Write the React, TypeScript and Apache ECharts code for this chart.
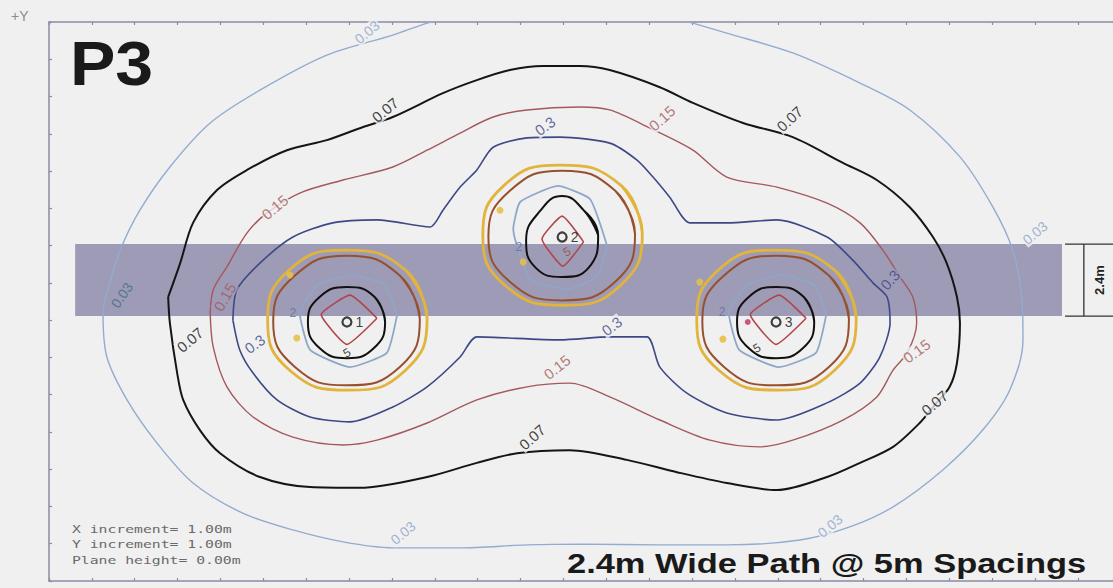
import React, { useEffect, useRef } from 'react';
import * as echarts from 'echarts';

// ---- axes (metres, 1.00 m increments) ----
const X_MAX = 24.82;
const Y_MAX = 15;

// ---- path band (2.4 m wide) ----
const BAND_X = [0.61, 23.63];
const BAND_Y = [7.11, 9.04];
const BAND_TEXT = '2.4m';

// ---- luminaires ----
const LAMP_X = [6.95, 11.97, 16.96];
const LAMP_Y = [6.95, 9.23, 6.95];
const LAMP_TAGS = ['1', '2', '3'];

// ---- outer iso-lux contours ----
const C003 = [[11.92,15.54],[13.78,15.37],[15.02,14.97],[15.81,14.70],[17.35,14.17],[18.92,13.36],[20.08,12.64],[21.25,11.38],[22.02,10.03],[22.48,8.88],[22.69,7.62],[22.72,6.47],[22.41,5.12],[21.78,4.05],[20.85,2.98],[19.69,1.99],[18.68,1.45],[17.52,1.10],[15.81,0.97],[14.25,0.97],[12.38,0.99],[11.15,0.97],[9.59,0.89],[8.02,0.89],[6.86,1.05],[5.69,1.37],[4.52,1.82],[3.36,2.63],[2.52,3.70],[1.82,4.86],[1.35,6.01],[1.26,7.19],[1.42,8.00],[1.66,8.88],[2.12,9.95],[2.82,11.11],[3.76,12.29],[4.92,13.17],[6.48,14.11],[8.02,14.65],[8.82,14.97],[10.05,15.37],[11.92,15.54]];
const C007 = [[2.78,7.62],[3.06,8.53],[3.36,9.61],[3.92,10.49],[4.62,11.03],[5.55,11.56],[6.48,11.83],[7.25,12.15],[8.02,12.45],[9.19,13.09],[9.98,13.44],[10.75,13.71],[11.52,13.82],[12.38,13.82],[13.08,13.71],[14.25,13.25],[15.02,12.83],[16.19,12.29],[17.35,11.91],[18.52,11.22],[19.31,10.76],[20.08,10.03],[20.62,9.23],[20.94,8.53],[21.18,7.62],[21.25,6.92],[21.18,5.85],[21.01,5.21],[20.66,4.72],[20.31,4.24],[19.69,3.60],[18.92,3.17],[18.15,2.79],[16.98,2.44],[15.81,2.63],[14.65,2.92],[13.48,3.25],[12.15,3.51],[10.92,3.43],[9.98,3.17],[8.82,2.79],[7.25,2.50],[6.09,2.52],[4.92,2.79],[3.99,3.43],[3.52,4.05],[3.13,4.86],[2.99,5.58],[2.82,6.92],[2.78,7.62]];
const C015 = [[3.76,7.19],[3.83,7.81],[4.15,8.43],[4.62,9.34],[5.08,9.87],[5.85,10.41],[6.86,10.76],[8.02,11.11],[8.82,11.56],[9.59,12.02],[10.36,12.45],[11.15,12.64],[12.38,12.72],[13.08,12.64],[14.02,12.15],[15.02,11.56],[15.81,10.84],[16.98,10.57],[18.15,10.14],[18.92,9.61],[19.45,8.88],[19.85,8.16],[20.15,7.62],[20.24,6.92],[20.03,6.14],[19.69,5.66],[19.31,4.94],[18.52,4.32],[17.35,3.78],[16.58,3.60],[15.42,3.78],[14.25,4.32],[13.08,4.94],[12.15,5.31],[11.15,5.21],[9.98,4.86],[8.82,4.24],[7.65,3.78],[6.86,3.65],[5.69,3.86],[4.76,4.40],[4.15,5.21],[3.83,6.28],[3.76,7.19]];
const C030 = [[4.29,7.00],[4.38,7.81],[4.92,8.53],[5.69,9.23],[6.62,9.61],[7.65,9.69],[8.89,9.50],[9.19,9.95],[9.59,10.57],[9.98,11.03],[10.36,11.64],[11.15,11.89],[11.92,11.91],[13.08,11.75],[13.71,11.30],[14.09,10.84],[14.48,10.30],[14.95,9.61],[15.81,9.61],[16.98,9.69],[18.15,9.23],[18.75,8.61],[19.22,8.00],[19.55,7.62],[19.62,6.92],[19.38,6.01],[18.92,5.31],[18.15,4.78],[16.98,4.32],[15.81,4.51],[14.88,5.04],[14.25,5.74],[13.95,6.55],[13.08,6.55],[11.92,6.47],[9.98,6.55],[9.59,6.01],[8.82,5.21],[8.02,4.67],[7.02,4.27],[6.09,4.40],[5.32,4.86],[4.76,5.58],[4.45,6.20],[4.29,7.00]];

// ---- contour labels [x, y, angle] ----
const LBL_003 = [[7.42,14.73,40],[1.70,7.67,55],[23.0,9.34,40],[8.26,1.29,40],[18.22,1.48,40]];
const LBL_007 = [[7.84,12.64,40],[17.28,12.40,43],[20.66,4.78,40],[11.27,3.86,42],[3.29,6.47,40]];
const LBL_015 = [[5.27,10.03,40],[14.30,12.42,42],[20.24,6.17,36],[11.85,5.74,38],[4.10,7.62,60]];
const LBL_030 = [[11.57,12.21,36],[19.62,8.08,48],[13.13,6.84,37],[4.80,6.36,36]];

// ---- inner rings around each luminaire (offsets from the luminaire, read per lamp) ----
const YELLOW_RING = [[1.87,0.1],[1.38,1.38],[-0.05,1.93],[-1.36,1.38],[-1.85,0.05],[-1.33,-1.3],[0.05,-1.83],[1.36,-1.3]];
const BROWN_RING = [[1.70,0.08],[1.24,1.24],[0,1.78],[-1.22,1.24],[-1.72,0.02],[-1.22,-1.2],[0,-1.7],[1.24,-1.2]];
const BLUE_RING_SIDE = [[1.17,0.19],[0.89,0.99],[0.12,1.26],[-0.68,0.99],[-1.10,0.24],[-0.86,-0.75],[0.07,-1.21],[0.93,-0.83]];
const BLUE_RING_MID = [[1.05,-0.24],[0.65,1.02],[-0.1,1.37],[-0.98,0.94],[-1.14,0.21],[-0.75,-1.13],[0.12,-1.40],[0.82,-1.05]];
const BLACK_RING_SIDE = [[0.89,0],[0.64,0.68],[0,0.94],[-0.65,0.66],[-0.91,0],[-0.64,-0.7],[0,-0.97],[0.63,-0.7]];
const BLACK_RING_MID = [[0.84,0.05],[0.5,0.72],[0,1.1],[-0.5,0.72],[-0.84,-0.1],[-0.62,-0.82],[0,-1.07],[0.62,-0.82]];
const DIAMOND_SIDE = [[0.7,0.1],[0.07,0.72],[-0.6,0.2],[0,-0.6]];
const DIAMOND_MID = [[0.5,-0.13],[0,0.56],[-0.47,-0.05],[0.02,-0.78]];

const INNER_BLUE_LBL = [[5.69,7.19],[10.96,8.96],[15.70,7.22]];
const INNER_BLACK_LBL = [[6.95,6.12],[16.51,6.25]];
const INNER_BROWN_LBL = [[12.08,8.83]];
const YELLOW_DOTS = [[5.78,6.52],[5.62,8.21],[10.52,9.95],[11.06,8.56],[15.72,6.49],[15.18,8.02]];
const RED_DOTS = [[16.30,6.95]];

// ---- texts ----
const TITLE = 'P3';
const SUBTITLE = '2.4m Wide Path @ 5m Spacings';
const INFO_LINES = ['X increment= 1.00m', 'Y increment= 1.00m', 'Plane height= 0.00m'];
const AXIS_TAG = '+Y';

const BG = '#f0f0f0';
const BAND_COLOR = '#9d9bb5';
const AXIS_COLOR = '#8d8aa2';
const COL = {
  c003: '#92acd0', c003band: '#3f6f80', c007: '#151515', c015: '#a4585c', c030: '#3d4886',
  yellow: '#e2b43c', brown: '#97502e', blue: '#8ea7c8', black: '#111111', red: '#b0464a',
};

function loop(cx: number, cy: number, offs: number[][], smoothClose: boolean) {
  const pts = offs.map(([dx, dy]) => [cx + dx, cy + dy]);
  return smoothClose ? [...pts, pts[0], pts[1]] : [...pts, pts[0]];
}

function lineSeries(data: number[][], color: string, width: number, smooth: number | boolean, z = 3) {
  return {
    type: 'line', data, showSymbol: false, symbol: 'none', smooth, silent: true, z,
    lineStyle: { color, width }, animation: false,
  };
}

function inBand(x: number, y: number) {
  return x >= BAND_X[0] && x <= BAND_X[1] && y >= BAND_Y[0] && y <= BAND_Y[1];
}

function labelItems(list: number[][], text: string, color: string, size: number, bandColor?: string) {
  return list.map(([x, y, r]) => {
    const b = inBand(x, y);
    return {
      name: text,
      value: [x, y],
      label: {
        rotate: r, color: b && bandColor ? bandColor : color, fontSize: size,
        backgroundColor: b ? BAND_COLOR : BG, padding: [0, 1],
      },
    };
  });
}

function buildOption() {
  const axisCommon = {
    type: 'value', min: 0, interval: 1,
    axisLine: { show: true, onZero: false, lineStyle: { color: AXIS_COLOR, width: 1.5 } },
    axisTick: { show: true, inside: true, length: 3, lineStyle: { color: AXIS_COLOR, width: 1.2 } },
    axisLabel: { show: false }, splitLine: { show: false },
  };
  const series: any[] = [];
  // band
  series.push({
    type: 'custom', z: 1, silent: true,
    data: [[BAND_X[0], BAND_Y[0], BAND_X[1], BAND_Y[1]]],
    encode: { x: [0, 2], y: [1, 3] },
    renderItem: (_p: any, api: any) => {
      const a = api.coord([api.value(0), api.value(3)]);
      const b = api.coord([api.value(2), api.value(1)]);
      return { type: 'rect', shape: { x: a[0], y: a[1], width: b[0] - a[0], height: b[1] - a[1] }, style: { fill: BAND_COLOR } };
    },
  });
  // dimension marker of band width
  series.push({
    type: 'custom', z: 5, silent: true, clip: false,
    data: [[BAND_Y[0], BAND_Y[1]]],
    encode: { y: [0, 1] },
    renderItem: (_p: any, api: any) => {
      const top = api.coord([23.70, api.value(1)]);
      const bot = api.coord([23.70, api.value(0)]);
      const right = api.coord([X_MAX, api.value(1)])[0];
      const mid = api.coord([24.14, 0])[0];
      const txt = api.coord([24.50, 0])[0];
      const ls = { stroke: '#333', lineWidth: 1.3 };
      return {
        type: 'group', children: [
          { type: 'line', shape: { x1: top[0], y1: top[1], x2: right, y2: top[1] }, style: ls },
          { type: 'line', shape: { x1: bot[0], y1: bot[1], x2: right, y2: bot[1] }, style: ls },
          { type: 'line', shape: { x1: mid, y1: top[1], x2: mid, y2: bot[1] }, style: ls },
          { type: 'text', x: txt, y: (top[1] + bot[1]) / 2, rotation: Math.PI / 2,
            style: { text: BAND_TEXT, fill: '#222', fontSize: 13, fontWeight: 'bold', fontFamily: 'Liberation Sans', align: 'center', verticalAlign: 'middle' } },
        ],
      };
    },
  });
  // outer contours
  series.push(lineSeries(C003, COL.c003, 1.4, 0.3));
  series.push(lineSeries(C007, COL.c007, 2, 0.3));
  series.push(lineSeries(C015, COL.c015, 1.4, 0.3));
  series.push(lineSeries(C030, COL.c030, 1.6, 0.25));
  // rings per lamp
  LAMP_X.forEach((cx, i) => {
    const cy = LAMP_Y[i];
    const mid = i === 1;
    series.push(lineSeries(loop(cx, cy, YELLOW_RING, true), COL.yellow, 2.8, 0.5, 4));
    series.push(lineSeries(loop(cx, cy, BROWN_RING, true), COL.brown, 2, 0.5, 4));
    series.push(lineSeries(loop(cx, cy, mid ? BLUE_RING_MID : BLUE_RING_SIDE, false), COL.blue, 1.8, 0.15, 4));
    series.push(lineSeries(loop(cx, cy, mid ? BLACK_RING_MID : BLACK_RING_SIDE, true), COL.black, 2, 0.5, 4));
    series.push(lineSeries(loop(cx, cy, mid ? DIAMOND_MID : DIAMOND_SIDE, false), COL.red, 1.6, 0.15, 4));
  });
  // dots
  series.push({ type: 'scatter', z: 5, silent: true, symbolSize: 7, data: YELLOW_DOTS, itemStyle: { color: '#e6c04a', opacity: 0.9 } });
  series.push({ type: 'scatter', z: 6, silent: true, symbolSize: 6, data: RED_DOTS, itemStyle: { color: '#c2335a' } });
  // luminaire markers
  series.push({
    type: 'scatter', z: 8, silent: true, symbol: 'circle', symbolSize: 9,
    data: LAMP_X.map((x, i) => ({ name: LAMP_TAGS[i], value: [x, LAMP_Y[i]] })),
    itemStyle: { color: 'rgba(0,0,0,0)', borderColor: '#111', borderWidth: 2.2 },
    label: { show: true, position: 'right', distance: 3, formatter: '{b}', fontSize: 14, color: '#111', fontFamily: 'Liberation Sans' },
  });
  // contour labels
  const lbl = [
    ...labelItems(LBL_003, '0.03', '#8aa3c8', 14, COL.c003band),
    ...labelItems(LBL_007, '0.07', '#111', 15),
    ...labelItems(LBL_015, '0.15', COL.c015, 15),
    ...labelItems(LBL_030, '0.3', COL.c030, 15),
    ...INNER_BLUE_LBL.map(([x, y]) => ({ name: '2', value: [x, y], label: { color: '#5b6fa6', fontSize: 12, rotate: 0 } })),
    ...INNER_BLACK_LBL.map(([x, y]) => ({ name: '5', value: [x, y], label: { color: '#111', fontSize: 12, rotate: 30 } })),
    ...INNER_BROWN_LBL.map(([x, y]) => ({ name: '5', value: [x, y], label: { color: '#a0453a', fontSize: 12, rotate: 30 } })),
  ];
  series.push({
    type: 'scatter', z: 10, silent: true, symbolSize: 1, data: lbl,
    itemStyle: { color: 'rgba(0,0,0,0)' },
    label: { show: true, position: 'inside', formatter: '{b}', fontFamily: 'Liberation Sans' },
  });

  return {
    animation: false,
    backgroundColor: BG,
    grid: { left: 49, top: 22, right: 0, bottom: 7 },
    xAxis: [
      { ...axisCommon, max: X_MAX, position: 'bottom' },
      { ...axisCommon, max: X_MAX, position: 'top' },
    ],
    yAxis: [{ ...axisCommon, max: Y_MAX, position: 'left' }],
    graphic: [
      { type: 'text', x: 11, y: 16, silent: true, style: { text: AXIS_TAG, fill: '#8a8a98', fontSize: 14, fontFamily: 'Liberation Sans', verticalAlign: 'middle' } },
      { type: 'text', x: 70, y: 63, scaleX: 1.08, silent: true, style: { text: TITLE, fill: '#1a1a1a', fontSize: 63, fontWeight: 'bold', fontFamily: 'Liberation Sans', verticalAlign: 'middle' } },
      { type: 'text', x: 567, y: 564, scaleX: 1.23, silent: true, style: { text: SUBTITLE, fill: '#1a1a1a', fontSize: 28, fontWeight: 'bold', fontFamily: 'Liberation Sans', verticalAlign: 'middle' } },
      ...INFO_LINES.map((t, i) => ({
        type: 'text', x: 72, y: 529 + i * 15.5, scaleX: 1.34, silent: true,
        style: { text: t, fill: '#6a6a6a', fontSize: 11, fontFamily: 'DejaVu Sans Mono', verticalAlign: 'middle' },
      })),
    ],
    series,
  };
}

export default function App() {
  const ref = useRef<HTMLDivElement>(null);
  useEffect(() => {
    const chart = echarts.init(ref.current!, null, { renderer: 'svg' });
    chart.setOption(buildOption() as any);
    return () => chart.dispose();
  }, []);
  return <div ref={ref} style={{ position: 'absolute', left: 0, top: 0, width: 1113, height: 588, background: BG }} />;
}
